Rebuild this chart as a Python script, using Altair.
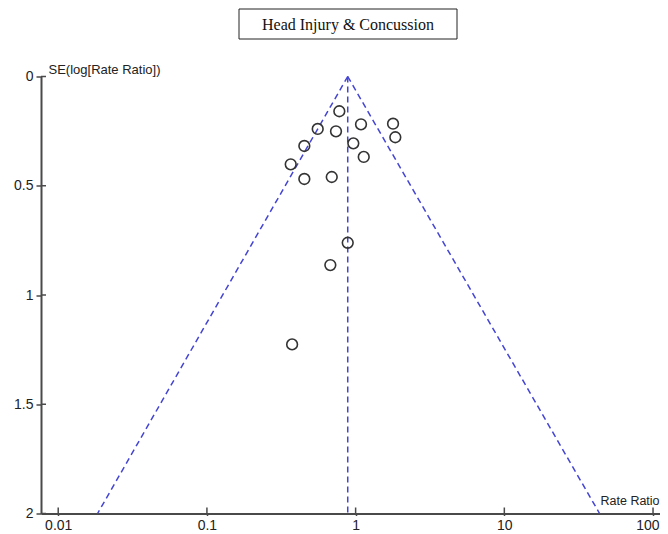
import altair as alt
import pandas as pd

# Studies
study_rr = [0.777, 0.556, 0.738, 1.087, 1.785, 1.849, 0.965, 0.452, 1.134,
            0.366, 0.452, 0.691, 0.885, 0.676, 0.374]
study_se = [0.159, 0.240, 0.251, 0.219, 0.216, 0.278, 0.306, 0.318, 0.368,
            0.402, 0.469, 0.460, 0.761, 0.863, 1.226]

# Funnel (pooled estimate and 95% limits at SE = 2)
funnel_side = ["left", "left", "right", "right", "center", "center"]
funnel_rr = [0.885, 0.0184, 0.885, 43.7, 0.885, 0.885]
funnel_se = [0.0, 2.0, 0.0, 2.0, 0.0, 2.0]

x_ticks = [0.01, 0.1, 1, 10, 100]
y_ticks = [0, 0.5, 1, 1.5, 2]
x_domain = [0.00766, 111.4]
y_domain = [0, 2]

title_text = "Head Injury & Concussion"
y_title = "SE(log[Rate Ratio])"
x_title = "Rate Ratio"

W, H = 619, 437
AXIS_COLOR = "#4a4a4a"
LINE_COLOR = "#4444d4"
FONT = "Liberation Sans"

xscale = alt.Scale(type="log", domain=x_domain, nice=False, zero=False)
yscale = alt.Scale(domain=y_domain, reverse=True, nice=False, zero=False)

studies = pd.DataFrame({"rr": study_rr, "se": study_se})
funnel = pd.DataFrame({"side": funnel_side, "rr": funnel_rr, "se": funnel_se})
funnel["ord"] = list(range(len(funnel_side)))

x_axis = alt.Axis(values=x_ticks, format="~g", tickSize=2, tickWidth=1.5,
                  labelPadding=3, labelFontSize=14, labelFont=FONT,
                  labelColor="#222222", labelFlush=10, labelFlushOffset=6,
                  title=x_title, titleAngle=0, titleX=559, titleY=-13,
                  titleAlign="left", titleBaseline="middle",
                  titleFontWeight="normal", titleFontSize=12.5, titleFont=FONT,
                  titleColor="#222222")
y_axis = alt.Axis(values=y_ticks, format="~g", tickSize=5, tickWidth=1.5,
                  labelPadding=3, labelFontSize=14, labelFont=FONT,
                  labelColor="#222222",
                  title=y_title, titleAngle=0, titleX=7, titleY=-7,
                  titleAlign="left", titleBaseline="middle",
                  titleFontWeight="normal", titleFontSize=13, titleFont=FONT,
                  titleColor="#222222")

lines = alt.Chart(funnel).mark_line(
    color=LINE_COLOR, strokeDash=[6, 4], strokeWidth=1.5
).encode(
    x=alt.X("rr:Q", scale=xscale, axis=x_axis),
    y=alt.Y("se:Q", scale=yscale, axis=y_axis),
    detail="side:N",
    order="ord:Q",
)

points = alt.Chart(studies).mark_point(
    shape="circle", filled=False, size=115, color="#333333", strokeWidth=1.6,
    opacity=1
).encode(
    x=alt.X("rr:Q", scale=xscale),
    y=alt.Y("se:Q", scale=yscale),
)

# inner halves of the tick marks (ticks cross the axis lines)
ytick_in = alt.Chart(pd.DataFrame({"v": y_ticks})).mark_rule(
    color=AXIS_COLOR, strokeWidth=1.5
).encode(y=alt.Y("v:Q", scale=yscale), x=alt.value(0), x2=alt.value(5))

xtick_in = alt.Chart(pd.DataFrame({"v": x_ticks})).mark_rule(
    color=AXIS_COLOR, strokeWidth=1.5
).encode(x=alt.X("v:Q", scale=xscale), y=alt.value(H - 6), y2=alt.value(H))

title_df = pd.DataFrame({"t": [title_text]})
title_box = alt.Chart(title_df).mark_rect(
    fill="white", stroke="#222222", strokeWidth=1
).encode(x=alt.value(198), x2=alt.value(416), y=alt.value(-67.5), y2=alt.value(-37.5))
title_label = alt.Chart(title_df).mark_text(
    font="Liberation Serif", fontSize=16, color="#111111",
    align="center", baseline="middle"
).encode(text="t:N", x=alt.value(307), y=alt.value(-52))

chart = alt.layer(
    lines, points, ytick_in, xtick_in, title_box, title_label
).properties(
    width=W, height=H,
    autosize=alt.AutoSizeParams(type="none"),
    padding={"left": 33, "top": 68.5, "right": 0, "bottom": 18},
).configure_view(stroke=None).configure_axis(
    grid=False, domainColor=AXIS_COLOR, domainWidth=2, tickColor=AXIS_COLOR
)

chart.save("out.html", embed_options={"renderer": "svg", "actions": False})
